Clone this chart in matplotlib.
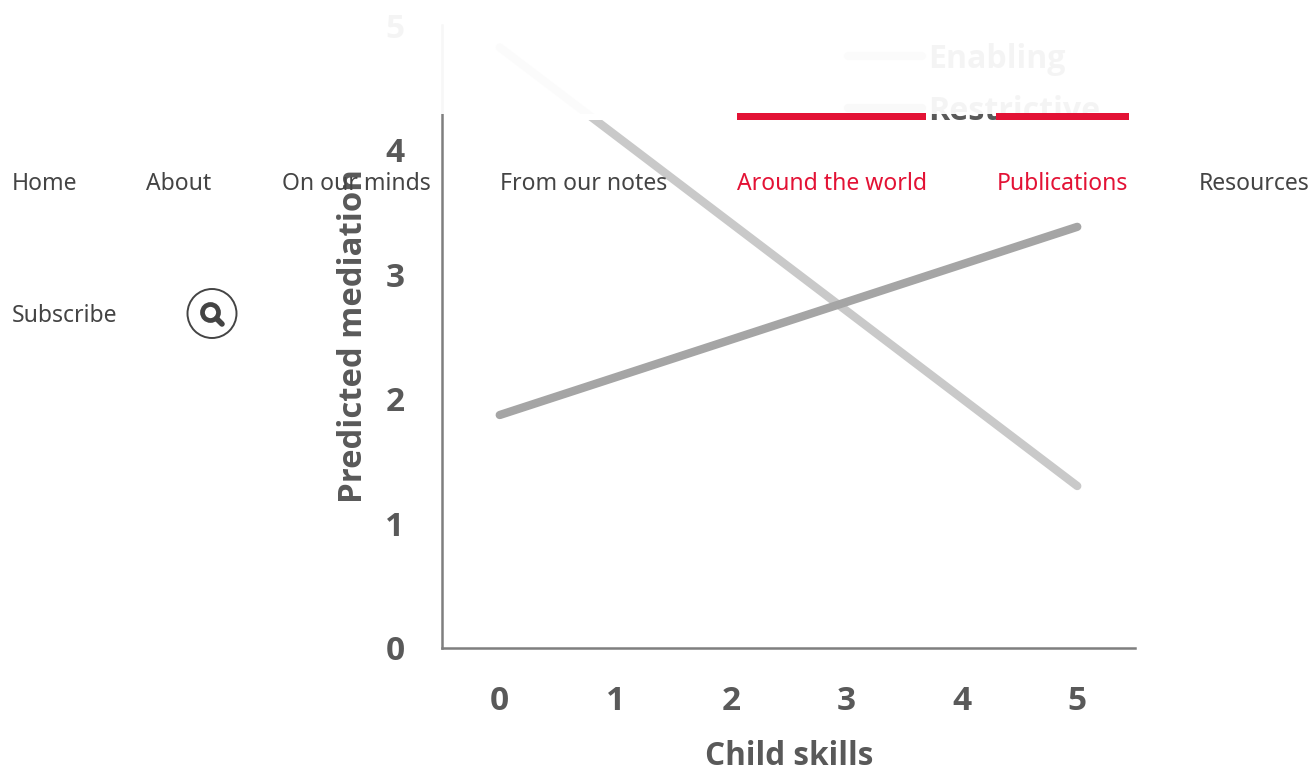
import numpy as np
import matplotlib
matplotlib.use("Agg")
import matplotlib.pyplot as plt
from matplotlib.patches import Circle, Rectangle

# --- Chart data ---
skills = [0, 5]
enabling = [4.82, 1.30]
restrictive = [1.87, 3.38]
x_ticks = [0, 1, 2, 3, 4, 5]
y_ticks = [0, 1, 2, 3, 4, 5]
series_names = ["Enabling", "Restrictive"]

# --- Page navigation laid over the chart ---
nav_labels = ["Home", "About", "On our minds", "From our notes",
              "Around the world", "Publications", "Resources"]
nav_x = [11.5, 146.5, 281.5, 500.5, 737, 997, 1198.5]
nav_active = [False, False, False, False, True, True, False]

W, H = 1310, 771
GREY = "#595959"
RED = "#e31235"
NAV = "#444444"

fig = plt.figure(figsize=(W / 100, H / 100), dpi=100)
fig.patch.set_facecolor("white")

# axes box in pixels: x 442-1135, y 25-648
ax = fig.add_axes([442 / W, 1 - 648 / H, (1135 - 442) / W, (648 - 25) / H])
ax.set_xlim(-0.5, 5.5)
ax.set_ylim(0, 5)
ax.plot(skills, enabling, color="#c9c9c9", lw=6, solid_capstyle="round", zorder=2)
ax.plot(skills, restrictive, color="#a5a5a5", lw=6, solid_capstyle="round", zorder=3)
ax.set_xticks(x_ticks)
ax.set_yticks(y_ticks)
ax.tick_params(axis="x", length=0, pad=27, labelsize=24, labelcolor=GREY)
ax.tick_params(axis="y", length=0, pad=27, labelsize=24, labelcolor=GREY)
for lab in ax.get_xticklabels() + ax.get_yticklabels():
    lab.set_family("Open Sans")
    lab.set_fontweight("bold")
for side in ["top", "right"]:
    ax.spines[side].set_visible(False)
for side in ["left", "bottom"]:
    ax.spines[side].set_color("#7f7f7f")
    ax.spines[side].set_linewidth(1.8)
ax.patch.set_alpha(0)

# full-page axes in pixel coordinates for everything that is not data
page = fig.add_axes([0, 0, 1, 1])
page.set_xlim(0, W)
page.set_ylim(H, 0)
page.axis("off")
page.patch.set_alpha(0)

page.text(789, 756.5, "Child skills", family="Open Sans", weight="bold", fontsize=22.7,
          color=GREY, ha="center", va="center")
page.text(353, 336, "Predicted mediation", family="Open Sans", weight="bold", fontsize=23.7,
          color=GREY, ha="center", va="center", rotation=90)

# legend, mostly hidden by the fading page header
page.plot([848, 922], [56, 56], color="#c9c9c9", lw=6, solid_capstyle="round", zorder=2)
page.plot([848, 922], [108, 108], color="#a5a5a5", lw=6, solid_capstyle="round", zorder=2)
for y, name in zip([59, 111], series_names):
    page.text(928, y, name, family="Open Sans", weight="bold", fontsize=23.1, color=GREY,
              ha="left", va="center", zorder=2)

# translucent header band, then a solid strip where the line is cut
page.add_patch(Rectangle((0, 0), W, 114, fc="white", alpha=0.94, ec="none", zorder=5))
page.add_patch(Rectangle((450, 114), 280, 6, fc="white", ec="none", zorder=5))

# red marks over the active menu items
for x0, x1 in [(737, 926), (996, 1129)]:
    page.add_patch(Rectangle((x0, 113), x1 - x0, 7, fc=RED, ec="none", zorder=6))

for x, label, active in zip(nav_x, nav_labels, nav_active):
    page.text(x, 184, label, family="Noto Sans", fontsize=16.55, ha="left", va="center",
              color=RED if active else NAV, zorder=7)
page.text(11.5, 316, "Subscribe", family="Noto Sans", fontsize=16.55, ha="left", va="center",
          color=NAV, zorder=7)

# search button
page.set_aspect("equal")
page.add_patch(Circle((212, 313.5), 24.5, fc="white", ec=NAV, lw=1.4, zorder=7))
page.add_patch(Circle((210.5, 312.5), 8, fc="none", ec=NAV, lw=3.4, zorder=8))
page.plot([216.5, 222], [318.5, 324], color=NAV, lw=4, solid_capstyle="round", zorder=8)

fig.savefig("out.png", dpi=100)
